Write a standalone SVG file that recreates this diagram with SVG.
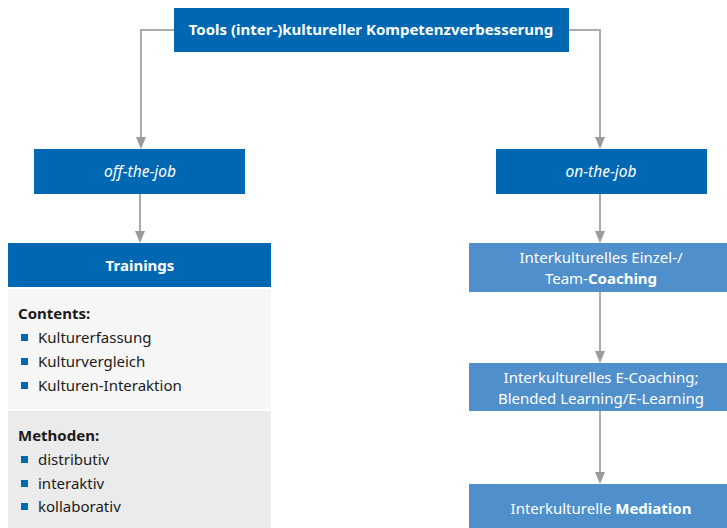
<svg xmlns="http://www.w3.org/2000/svg" width="727" height="528" viewBox="0 0 727 528">
<defs>
<style>
text{font-family:"Noto Sans","Open Sans","Liberation Sans",sans-serif;}
.dark{fill:#0068b3;}
.light{fill:#4f8fcc;}
.wt{fill:#ffffff;font-size:15px;text-anchor:middle;}
.b{font-weight:bold;}
.it{font-style:italic;font-size:15.5px;}
.lt{fill:#ffffff;font-size:15px;text-anchor:middle;}
.conn{fill:none;stroke:#ababab;stroke-width:2;}
.bt{fill:#1a1a1a;font-size:15px;}
.bul{fill:#0068b3;}
.ah{fill:#9b9b9b;}
</style>
</defs>
<g id="connectors">
<path class="conn" d="M174,30 H141 V137"/>
<path class="conn" d="M569,30 H600 V137"/>
<path class="conn" d="M140,194 V231"/>
<path class="conn" d="M600,194 V231"/>
<path class="conn" d="M600,291 V351"/>
<path class="conn" d="M600,411 V472"/>
<path class="ah" d="M136,137 L146,137 L141,149 Z"/>
<path class="ah" d="M595,137 L605,137 L600,149 Z"/>
<path class="ah" d="M135,231 L145,231 L140,243 Z"/>
<path class="ah" d="M595,231 L605,231 L600,243 Z"/>
<path class="ah" d="M595,351 L605,351 L600,363 Z"/>
<path class="ah" d="M595,472 L605,472 L600,484 Z"/>
</g>
<g id="root">
<rect class="dark" x="174" y="8" width="395" height="44"/>
<text class="wt b" x="371" y="35">Tools (inter-)kultureller Kompetenzverbesserung</text>
</g>
<g id="offjob">
<rect class="dark" x="34" y="149" width="211" height="45"/>
<text class="wt it" x="140" y="177">off-the-job</text>
</g>
<g id="onjob">
<rect class="dark" x="496" y="149" width="211" height="45"/>
<text class="wt it" x="601" y="177">on-the-job</text>
</g>
<g id="trainings">
<rect class="dark" x="8" y="243" width="263" height="44"/>
<text class="wt b" x="140" y="271">Trainings</text>
<rect x="8" y="289" width="263" height="120" fill="#f6f6f6"/>
<text class="bt b" x="18" y="319">Contents:</text>
<rect class="bul" x="21" y="334" width="7" height="7"/>
<text class="bt" x="38" y="343">Kulturerfassung</text>
<rect class="bul" x="21" y="358" width="7" height="7"/>
<text class="bt" x="38" y="367">Kulturvergleich</text>
<rect class="bul" x="21" y="382" width="7" height="7"/>
<text class="bt" x="38" y="391">Kulturen-Interaktion</text>
<rect x="8" y="411" width="263" height="117" fill="#ebebeb"/>
<text class="bt b" x="18" y="441">Methoden:</text>
<rect class="bul" x="21" y="456" width="7" height="7"/>
<text class="bt" x="38" y="465">distributiv</text>
<rect class="bul" x="21" y="480" width="7" height="7"/>
<text class="bt" x="38" y="489">interaktiv</text>
<rect class="bul" x="21" y="503" width="7" height="7"/>
<text class="bt" x="38" y="512">kollaborativ</text>
</g>
<g id="coaching">
<rect class="light" x="469" y="243" width="258" height="49"/>
<text class="lt" x="601" y="263">Interkulturelles Einzel-/</text>
<text class="lt" x="601" y="284">Team-<tspan class="b">Coaching</tspan></text>
</g>
<g id="ecoaching">
<rect class="light" x="469" y="363" width="258" height="48"/>
<text class="lt" x="601" y="383">Interkulturelles E-Coaching;</text>
<text class="lt" x="601" y="404">Blended Learning/E-Learning</text>
</g>
<g id="mediation">
<rect class="light" x="469" y="484" width="258" height="44"/>
<text class="lt" x="601" y="514">Interkulturelle <tspan class="b">Mediation</tspan></text>
</g>
</svg>
